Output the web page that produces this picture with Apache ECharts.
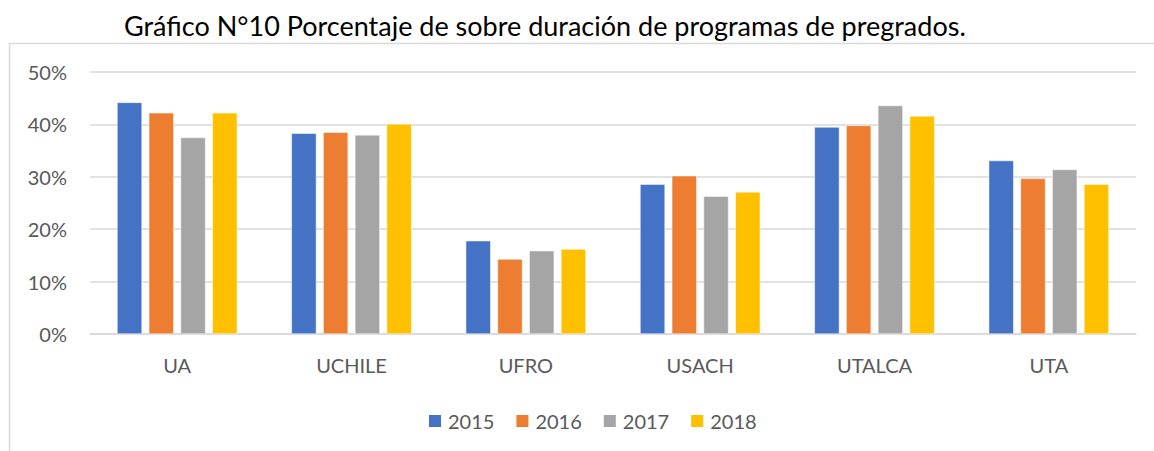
<!DOCTYPE html>
<html>
<head>
<meta charset="utf-8">
<script src="https://cdn.jsdelivr.net/npm/echarts@6/dist/echarts.min.js"></script>
<style>
  html, body { margin: 0; padding: 0; background: #fff; }
  #chart { width: 1154px; height: 451px; }
</style>
</head>
<body>
<div id="chart"></div>
<script>
(function() {
  var universidades = ['UA', 'UCHILE', 'UFRO', 'USACH', 'UTALCA', 'UTA'];
  var anios = ['2015', '2016', '2017', '2018'];
  var colores = ['#4472C4', '#ED7D31', '#A5A5A5', '#FFC000'];

  // porcentaje de sobre duración por año
  var v2015 = [44.2, 38.3, 17.8, 28.6, 39.5, 33.1];
  var v2016 = [42.2, 38.5, 14.3, 30.2, 39.8, 29.7];
  var v2017 = [37.5, 38.0, 15.9, 26.3, 43.6, 31.4];
  var v2018 = [42.2, 40.1, 16.2, 27.1, 41.6, 28.6];
  var valores = [v2015, v2016, v2017, v2018];

  var fuente = 'Lato, "Open Sans", sans-serif';
  var gris = '#595959';
  var linea = '#D9D9D9';

  var chart = echarts.init(document.getElementById('chart'), null, { renderer: 'svg' });
  chart.setOption({
    animation: false,
    textStyle: { fontFamily: fuente },
    title: {
      text: 'Gráfico N°10 Porcentaje de sobre duración de programas de pregrados.',
      left: 124,
      top: 12,
      padding: 0,
      textStyle: { fontFamily: fuente, fontSize: 27, fontWeight: 'normal', color: '#000' }
    },
    graphic: [{
      type: 'rect',
      silent: true,
      shape: { x: 9.5, y: 43.5, width: 1170, height: 430 },
      style: { fill: 'none', stroke: '#D9D9D9', lineWidth: 1.5 }
    }],
    legend: {
      data: anios,
      top: 411,
      left: 427,
      padding: 0,
      itemWidth: 14,
      itemHeight: 14,
      itemGap: 20,
      icon: 'rect',
      textStyle: { fontFamily: fuente, fontSize: 20, color: gris, padding: [0, 0, 0, 1] }
    },
    grid: { left: 90, right: 18, top: 72, bottom: 117 },
    xAxis: {
      type: 'category',
      data: universidades,
      axisLine: { show: true, lineStyle: { color: linea, width: 1.5 } },
      axisTick: { show: false },
      axisLabel: { color: gris, fontSize: 20, fontFamily: fuente, margin: 21 }
    },
    yAxis: {
      type: 'value',
      min: 0,
      max: 50,
      interval: 10,
      axisLine: { show: false },
      axisTick: { show: false },
      axisLabel: { color: gris, fontSize: 20, fontFamily: fuente, margin: 23, formatter: '{value}%' },
      splitLine: { lineStyle: { color: linea, width: 1.5 } }
    },
    series: anios.map(function(a, i) {
      return {
        name: a,
        type: 'bar',
        data: valores[i],
        barWidth: 25,
        barGap: '27%',
        itemStyle: { color: colores[i], borderColor: '#fff', borderWidth: 0.5 }
      };
    })
  });
})();
</script>
</body>
</html>
